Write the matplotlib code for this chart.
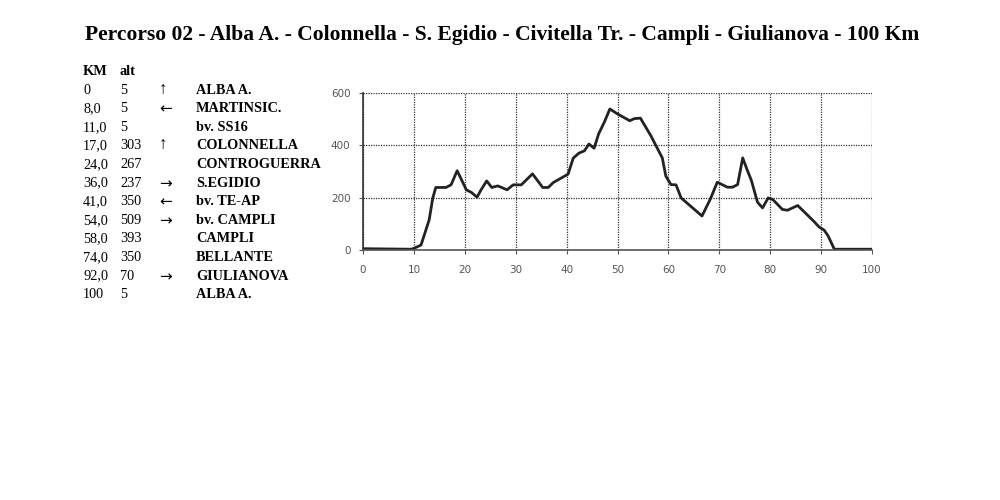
import matplotlib
matplotlib.use('Agg')
import matplotlib.pyplot as plt

# altimetry profile (km, metres)
km = [0, 9.4, 10, 11.4, 13, 13.7, 14.3, 16.3, 17.3, 18.5, 20.3, 21.3, 22.4, 23.2,
      24.3, 25.3, 26.5, 28.3, 29.5, 31.1, 33.3, 35.3, 36.4, 37.4, 40.3, 41.3, 42.4,
      43.5, 44.4, 45.4, 46.3, 47.4, 48.5, 50, 52.4, 53.3, 54.5, 56.6, 58.8, 59.5,
      60.5, 61.5, 62.5, 66.6, 68.2, 69.6, 71.6, 72.6, 73.6, 74.6, 75.4, 76.3, 77.5,
      78.5, 79.6, 80.5, 82.4, 83.4, 85.4, 87.2, 88.7, 89.6, 90.6, 91.4, 92.6, 100]
alt = [5, 3, 6, 19, 115, 198, 239, 239, 249, 303, 230, 220, 202, 230,
       264, 239, 245, 230, 249, 249, 291, 239, 239, 258, 290, 351, 370,
       379, 405, 389, 444, 488, 539, 520, 494, 502, 504, 435, 352, 282,
       250, 249, 199, 130, 193, 259, 240, 240, 250, 352, 310, 266, 183,
       161, 199, 193, 155, 152, 170, 136, 107, 88, 76, 53, 3, 3]

# road book table
tab_km = ['0', '8,0', '11,0', '17,0', '24,0', '36,0', '41,0', '54,0', '58,0', '74,0', '92,0', '100']
tab_alt = ['5', '5', '5', '303', '267', '237', '350', '509', '393', '350', '70', '5']
tab_dir = ['↑', '←', '', '↑', '', '→', '←', '→', '', '', '→', '']
tab_place = ['ALBA A.', 'MARTINSIC.', 'bv. SS16', 'COLONNELLA', 'CONTROGUERRA', 'S.EGIDIO',
             'bv. TE-AP', 'bv. CAMPLI', 'CAMPLI', 'BELLANTE', 'GIULIANOVA', 'ALBA A.']

title = 'Percorso 02 - Alba A. - Colonnella - S. Egidio - Civitella Tr. - Campli - Giulianova - 100 Km'

serif = ['Liberation Serif', 'DejaVu Serif']

fig = plt.figure(figsize=(10, 5), dpi=100)
fig.patch.set_facecolor('white')

fig.text(0.502, 0.92, title, ha='center', va='baseline', fontsize=15.5,
         fontweight='bold', family=serif)

# table
y0 = 1 - 75 / 500
dy = 18.6 / 500
fs = 10.3
fig.text(0.083, y0, 'KM', fontsize=fs, fontweight='bold', family=serif, va='baseline')
fig.text(0.120, y0, 'alt', fontsize=fs, fontweight='bold', family=serif, va='baseline')
for i in range(len(tab_km)):
    y = y0 - (i + 1) * dy
    fig.text(0.083, y, tab_km[i], fontsize=fs, family=serif, va='baseline')
    fig.text(0.120, y, tab_alt[i], fontsize=fs, family=serif, va='baseline')
    if tab_dir[i] == '↑':
        fig.text(0.159, y, tab_dir[i], fontsize=12, family=serif, va='baseline')
    elif tab_dir[i]:
        fig.text(0.159, y - 0.003, tab_dir[i], fontsize=11, family=['DejaVu Sans'],
                 va='baseline')
    fig.text(0.196, y, tab_place[i], fontsize=fs, fontweight='bold', family=serif, va='baseline')

# profile chart
ax = fig.add_axes([0.363, 0.5, 0.509, 0.314])
ax.plot(km, alt, color='#222222', lw=2.0, solid_joinstyle='round')
ax.set_xlim(0, 100)
ax.set_ylim(0, 600)
ax.set_xticks(range(0, 101, 10))
ax.set_yticks([0, 200, 400, 600])
ax.grid(True, color='#333333', linestyle=(0, (1, 1.0)), linewidth=0.9)
ax.set_axisbelow(True)
for s in ['top', 'right']:
    ax.spines[s].set_visible(False)
ax.spines['left'].set_color('#333333')
ax.spines['bottom'].set_color('#555555')
ax.spines['left'].set_linewidth(1.2)
ax.spines['bottom'].set_linewidth(1.2)
ax.tick_params(length=3, width=0.8, colors='#555555', labelsize=7.5, pad=6)
ax.tick_params(axis='x', pad=8)

fig.savefig('out.png', dpi=100, facecolor='white')
